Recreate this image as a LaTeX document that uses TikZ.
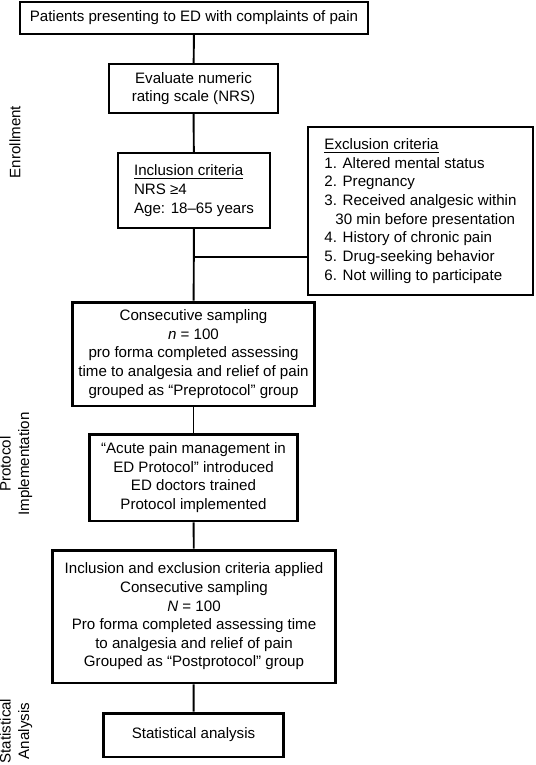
\documentclass[tikz,border=0pt]{standalone}
\usepackage{fontspec}
\setmainfont{Liberation Sans}
\usetikzlibrary{positioning}

\begin{document}
\begin{tikzpicture}[x=0.02cm, y=-0.02cm,
  font=\fontsize{8.6}{10.6}\selectfont,
  box/.style={draw, line width=1.1pt, align=center, inner sep=0pt},
  thickbox/.style={box, line width=1.7pt},
  side/.style={rotate=90, align=center}]
\useasboundingbox (0,0) rectangle (535,765);
% enrollment
\node[box, minimum width=6.96cm, minimum height=0.64cm] (patients) at (194,18)
  {Patients presenting to ED with complaints of pain};
\node[box, minimum width=3.38cm, minimum height=0.98cm] (nrs) at (193.5,88.5)
  {Evaluate numeric\\rating scale (NRS)};
\node[box, align=left, minimum width=3.04cm, minimum height=1.5cm] (incl) at (194,190.5)
  {\underline{Inclusion criteria}\\NRS ≥4\\Age: 18--65 years};
\node[box, align=left, line width=1.3pt, minimum width=4.5cm, minimum height=3.36cm] (excl) at (420.5,211)
  {\underline{Exclusion criteria}\\
   1. Altered mental status\\
   2. Pregnancy\\
   3. Received analgesic within\\
   \phantom{3}\,30 min before presentation\\
   4. History of chronic pain\\
   5. Drug-seeking behavior\\
   6. Not willing to participate};
\node[thickbox, minimum width=4.86cm, minimum height=2.08cm] (pre) at (193.5,354)
  {Consecutive sampling\\\textit{n} = 100\\pro forma completed assessing\\time to analgesia and relief of pain\\grouped as “Preprotocol” group};
% protocol
\node[thickbox, minimum width=4.18cm, minimum height=1.74cm] (proto) at (193.5,477.5)
  {“Acute pain management in\\ED Protocol” introduced\\ED doctors trained\\Protocol implemented};
\node[thickbox, minimum width=5.68cm, minimum height=2.66cm] (post) at (194,616.5)
  {Inclusion and exclusion criteria applied\\Consecutive sampling\\\textit{N} = 100\\Pro forma completed assessing time\\to analgesia and relief of pain\\Grouped as “Postprotocol” group};
% analysis
\node[thickbox, minimum width=3.62cm, minimum height=0.88cm] (stats) at (193.5,735)
  {Statistical analysis};
% side labels
\node[side] (lenroll) at (15,142) {Enrollment};
\node[side] (lproto) at (16,464) {Protocol\\Implementation};
\node[side] (lstats) at (16,731) {Statistical\\Analysis};
% connectors
\coordinate (split) at (194,257);
\draw[line width=1.1pt] (patients) -- (nrs);
\draw[line width=1.1pt] (nrs) -- (incl);
\draw[line width=1.1pt] (incl) -- (pre);
\draw[line width=1.1pt] (split) -- (split -| excl.west);
\draw[line width=1.1pt] (pre) -- (proto);
\draw[line width=1.1pt] (proto) -- (post);
\draw[line width=1.1pt] (post) -- (stats);
\end{tikzpicture}
\end{document}
